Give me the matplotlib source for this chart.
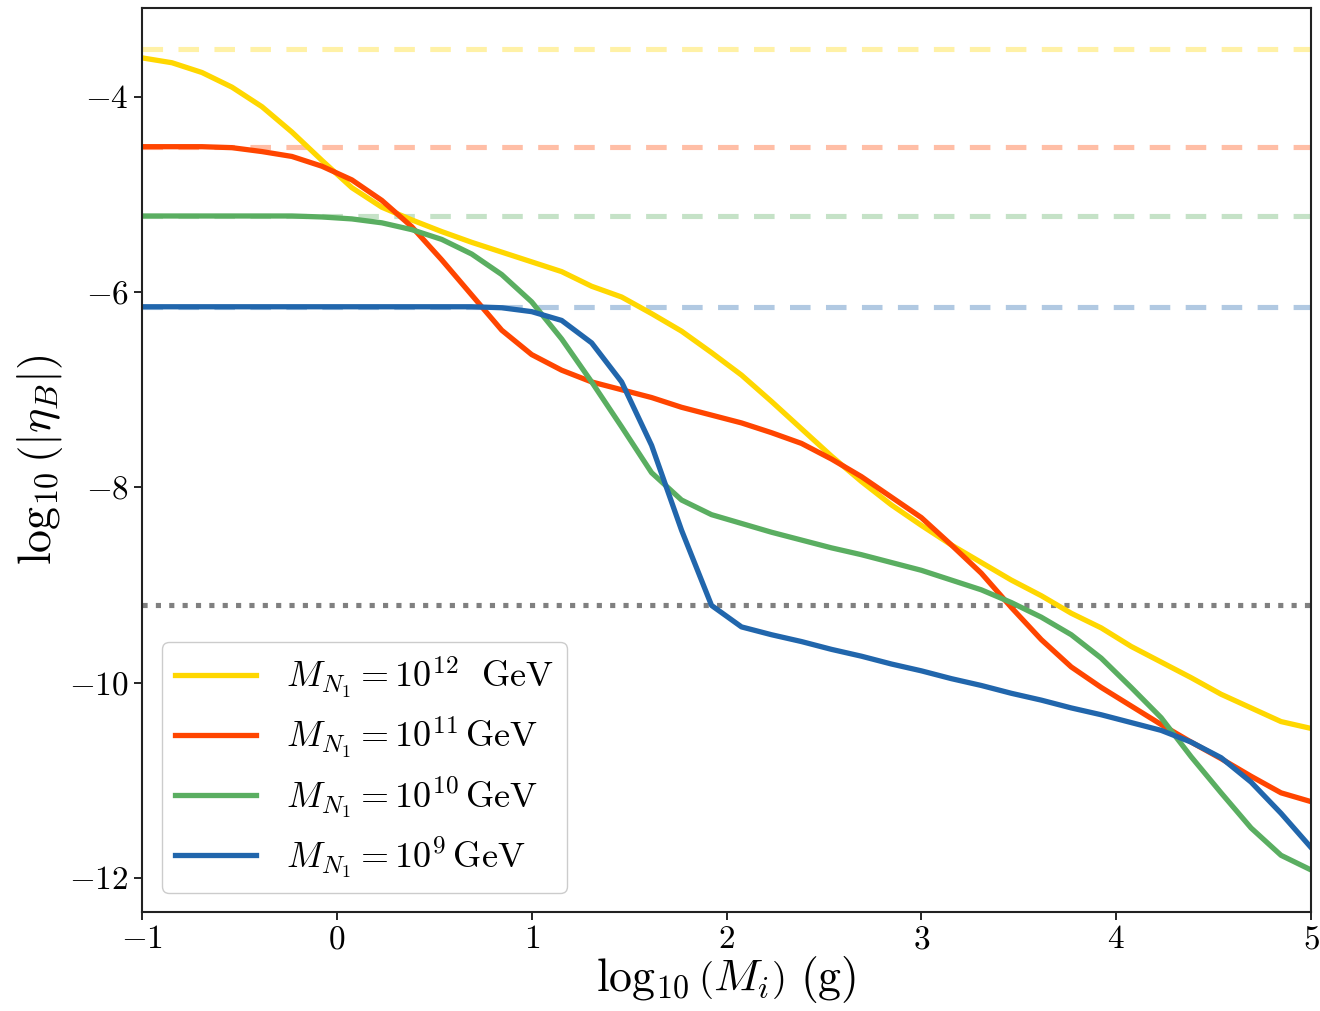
import numpy as np
import matplotlib
matplotlib.use('Agg')
import matplotlib.pyplot as plt
from matplotlib.ticker import FuncFormatter

plt.rcParams['mathtext.fontset'] = 'cm'
plt.rcParams['font.family'] = 'serif'
plt.rcParams['font.serif'] = ['cmr10', 'DejaVu Serif']
plt.rcParams['axes.formatter.use_mathtext'] = True

# log10(M_i) grid of the computed points
logM = np.linspace(-1, 5, 40)

eta_1e12 = [-3.60, -3.65, -3.75, -3.90, -4.10, -4.36, -4.65, -4.93, -5.13, -5.26,
            -5.38, -5.49, -5.59, -5.69, -5.79, -5.94, -6.05, -6.22, -6.40, -6.62,
            -6.85, -7.12, -7.40, -7.68, -7.94, -8.18, -8.39, -8.59, -8.77, -8.95,
            -9.11, -9.29, -9.44, -9.63, -9.79, -9.95, -10.12, -10.26, -10.40, -10.47]
eta_1e11 = [-4.51, -4.51, -4.51, -4.52, -4.56, -4.61, -4.71, -4.85, -5.06, -5.33,
            -5.67, -6.03, -6.39, -6.64, -6.80, -6.92, -7.00, -7.08, -7.18, -7.26,
            -7.34, -7.44, -7.55, -7.71, -7.89, -8.10, -8.31, -8.59, -8.88, -9.23,
            -9.56, -9.84, -10.05, -10.24, -10.43, -10.61, -10.78, -10.96, -11.13, -11.22]
eta_1e10 = [-5.22, -5.22, -5.22, -5.22, -5.22, -5.22, -5.23, -5.25, -5.29, -5.36,
            -5.46, -5.61, -5.82, -6.10, -6.48, -6.92, -7.38, -7.85, -8.13, -8.28,
            -8.37, -8.46, -8.54, -8.62, -8.69, -8.77, -8.85, -8.95, -9.05, -9.18,
            -9.33, -9.51, -9.75, -10.05, -10.36, -10.76, -11.13, -11.49, -11.77, -11.92]
eta_1e9 = [-6.15, -6.15, -6.15, -6.15, -6.15, -6.15, -6.15, -6.15, -6.15, -6.15,
           -6.15, -6.15, -6.16, -6.20, -6.29, -6.52, -6.92, -7.57, -8.44, -9.21,
           -9.43, -9.51, -9.58, -9.66, -9.73, -9.81, -9.88, -9.96, -10.03, -10.11,
           -10.18, -10.26, -10.33, -10.41, -10.49, -10.61, -10.77, -11.02, -11.34, -11.69]

# reference (dashed) levels and observed value (dotted)
eta_ref = [-3.51, -4.51, -5.22, -6.15]
eta_obs = -9.21

labels = [r'$M_{N_1} = 10^{12}\ \ \mathrm{GeV}$',
          r'$M_{N_1} = 10^{11}\,\mathrm{GeV}$',
          r'$M_{N_1} = 10^{10}\,\mathrm{GeV}$',
          r'$M_{N_1} = 10^{9}\,\mathrm{GeV}$']
colors = ['#FFD700', '#FF4500', '#5AAE61', '#2166AC']

fig = plt.figure(figsize=(13.2, 10.11), dpi=100)
ax = fig.add_axes([0.1076, 0.098, 0.8856, 0.894])

for c, r in zip(colors, eta_ref):
    ax.axhline(r, color=c, ls=(0, (4, 3)), lw=3.7, alpha=0.35)
ax.axhline(eta_obs, color='gray', ls=(0, (1, 1.6)), lw=3.7)

for y, c, lab in zip([eta_1e12, eta_1e11, eta_1e10, eta_1e9], colors, labels):
    ax.plot(logM, y, color=c, lw=3.8, label=lab)

ax.set_xlim(-1, 5)
ax.set_ylim(-12.35, -3.09)
ax.set_xticks(range(-1, 6))
ax.set_yticks([-12, -10, -8, -6, -4])
fmt = FuncFormatter(lambda v, p: r'$%d$' % v)
ax.xaxis.set_major_formatter(fmt)
ax.yaxis.set_major_formatter(fmt)
ax.tick_params(labelsize=24, length=6, width=1.2)
for s in ax.spines.values():
    s.set_color('#222222')
    s.set_linewidth(1.5)

ax.set_xlabel(r'$\log_{10}\left(M_i\right)\ (\mathrm{g})$', fontsize=33, labelpad=0)
ax.set_ylabel(r'$\log_{10}\left(|\eta_B|\right)$', fontsize=33, labelpad=3)

ax.legend(loc='lower left', bbox_to_anchor=(0.017, 0.021), borderaxespad=0,
          fontsize=26, handlelength=2.25, handletextpad=0.85, labelspacing=0.4,
          borderpad=0.35, framealpha=1.0, edgecolor='#cccccc')

fig.savefig('out.png', dpi=100)
